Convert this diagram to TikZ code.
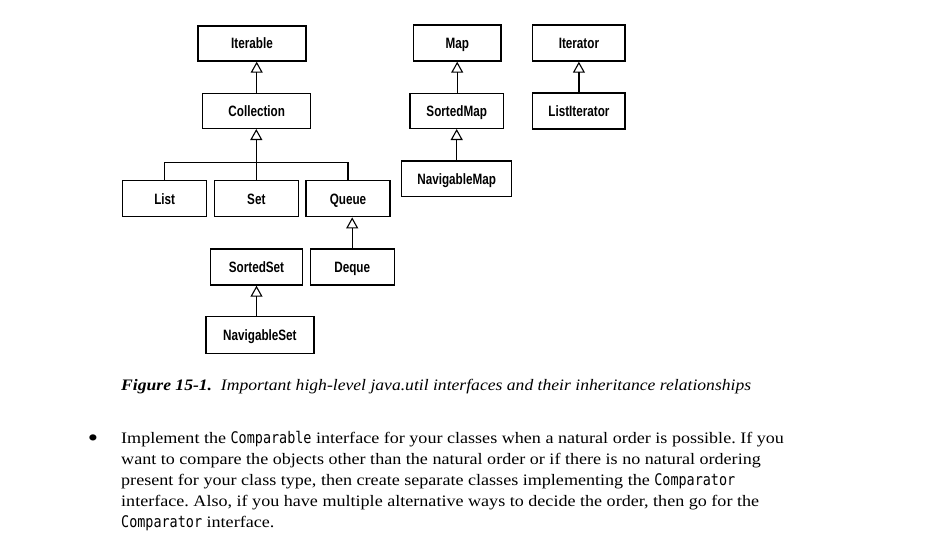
\documentclass[tikz,border=0pt]{standalone}
\usepackage{fontspec}
\setmainfont{Liberation Serif}[FakeStretch=1.13]
\newfontfamily\capfont{Liberation Serif}[FakeStretch=1.1]
\newfontfamily\boxfont{Liberation Sans}[FakeStretch=0.78]
\newfontfamily\codefont{DejaVu Sans Mono}[FakeStretch=0.84]
\usetikzlibrary{arrows.meta}
\frenchspacing
\begin{document}
\begin{tikzpicture}[x=1pt,y=-1pt,
  cls/.style={draw,line width=1.4pt,inner sep=0pt,minimum height=35pt,
    text height=10.7pt,text depth=0pt,
    font=\boxfont\bfseries\fontsize{15}{17}\selectfont},
  inh/.style={line width=1.4pt,-{Triangle[open,width=12pt,length=11pt,line width=1.1pt]}},
  bus/.style={line width=1.4pt},
  txt/.style={anchor=base west,inner sep=0pt,font=\fontsize{16}{20}\selectfont},
  captxt/.style={anchor=base west,inner sep=0pt,font=\capfont\itshape\fontsize{16}{20}\selectfont}]
\useasboundingbox (0,0) rectangle (928,550);
% nodes
\node[cls,minimum width=108pt] (iterable) at (252,43.5) {Iterable};
\node[cls,minimum width=108pt] (collection) at (256.7,110.8) {Collection};
\node[cls,minimum width=84pt,minimum height=36pt] (list) at (164.7,198.7) {List};
\node[cls,minimum width=84pt,minimum height=36pt] (set) at (256.3,198.7) {Set};
\node[cls,minimum width=84pt,minimum height=36pt] (queue) at (348,198.7) {Queue};
\node[cls,minimum width=91.6pt,minimum height=36pt] (sortedset) at (256.5,267) {SortedSet};
\node[cls,minimum width=84pt,minimum height=36pt] (deque) at (352.2,267) {Deque};
\node[cls,minimum width=108pt,minimum height=36.6pt] (navset) at (259.9,335) {NavigableSet};
\node[cls,minimum width=87.7pt,minimum height=36pt] (map) at (457.2,43) {Map};
\node[cls,minimum width=93.3pt] (sortedmap) at (456.7,110.8) {SortedMap};
\node[cls,minimum width=110pt,minimum height=35.7pt] (navmap) at (456.7,178.9) {NavigableMap};
\node[cls,minimum width=92.3pt,minimum height=36pt] (iterator) at (578.9,43) {Iterator};
\node[cls,minimum width=92.3pt,minimum height=36pt] (listiterator) at (578.9,110.8) {ListIterator};
\coordinate (busmid) at (256.7,162.7);
% connectors
\draw[inh] (collection.north) -- (collection.north |- iterable.south);
\draw[inh] (set.north) -- (set.north |- collection.south);
\draw[bus] (list.north) |- (busmid) -| (queue.north);
\draw[inh] (deque.north) -- (deque.north |- queue.south);
\draw[inh] (sortedset.south |- navset.north) -- (sortedset.south);
\draw[inh] (map.south |- sortedmap.north) -- (map.south);
\draw[inh] (sortedmap.south |- navmap.north) -- (sortedmap.south);
\draw[inh] (iterator.south |- listiterator.north) -- (iterator.south);
% caption and text
\node[captxt] (caption) at (121,390.7) {\textbf{Figure 15-1.}\ \ Important high-level java.util interfaces and their inheritance relationships};
\node[anchor=base,inner sep=0pt,font=\fontsize{26}{26}\selectfont] (bullet) at (93,446) {•};
\node[txt] (l1) at (121,443) {Implement the {\codefont Comparable} interface for your classes when a natural order is possible. If you};
\node[txt] (l2) at (121,464) {want to compare the objects other than the natural order or if there is no natural ordering};
\node[txt] (l3) at (121,485) {present for your class type, then create separate classes implementing the {\codefont Comparator}};
\node[txt] (l4) at (121,506) {interface. Also, if you have multiple alternative ways to decide the order, then go for the};
\node[txt] (l5) at (121,527) {{\codefont Comparator} interface.};
\end{tikzpicture}
\end{document}
